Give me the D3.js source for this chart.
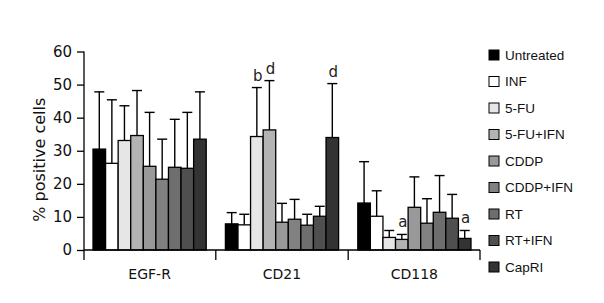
<!DOCTYPE html>
<html>
<head>
<meta charset="utf-8">
<script src="https://cdn.jsdelivr.net/npm/d3@7"></script>
<style>
  body { margin: 0; background: #fff; }
  svg { display: block; }
</style>
</head>
<body>
<div id="chart"></div>
<script>
// % positive cells per marker, by treatment

const groups = ["EGF-R", "CD21", "CD118"];
const treatments = ["Untreated", "INF", "5-FU", "5-FU+IFN", "CDDP", "CDDP+IFN", "RT", "RT+IFN", "CapRI"];
const colors = ["#000000", "#ffffff", "#e6e6e6", "#b3b3b3", "#999999", "#818181", "#6e6e6e", "#4f4f4f", "#333333"];

// mean values, one array per group (in treatment order)
const egfrMean  = [30.5, 26.2, 33.1, 34.6, 25.3, 21.4, 25.0, 24.7, 33.5];
const cd21Mean  = [7.9, 7.6, 34.3, 36.3, 8.4, 9.3, 7.5, 10.2, 34.0];
const cd118Mean = [14.2, 10.2, 3.8, 3.2, 12.9, 8.1, 11.4, 9.6, 3.5];

// top of the error bar (mean + SD)
const egfrErr  = [47.8, 45.4, 43.6, 48.2, 41.6, 33.5, 39.5, 41.6, 47.8];
const cd21Err  = [11.3, 10.8, 49.1, 51.2, 14.1, 15.3, 10.8, 13.2, 50.3];
const cd118Err = [26.7, 17.9, 5.9, 4.7, 22.1, 15.5, 22.5, 16.8, 5.9];

// significance letters: [group, treatment, letter]
const marks = [
  ["CD21", "5-FU", "b"],
  ["CD21", "5-FU+IFN", "d"],
  ["CD21", "CapRI", "d"],
  ["CD118", "5-FU+IFN", "a"],
  ["CD118", "CapRI", "a"]
];

const yTicks = [0, 10, 20, 30, 40, 50, 60];

const width = 604, height = 303;
const margin = ({ top: 51.5, left: 84, bottom: 250, right: 480 });

const means = [egfrMean, cd21Mean, cd118Mean];
const errs = [egfrErr, cd21Err, cd118Err];
const data = groups.flatMap((g, gi) => treatments.map((t, ti) => ({
  group: g, treatment: t, value: means[gi][ti], err: errs[gi][ti], color: colors[ti]
})));

const svg = d3.select("#chart").append("svg")
  .attr("width", width)
  .attr("height", height);

const x0 = d3.scaleBand()
  .domain(groups)
  .range([margin.left, margin.right])
  .paddingInner(0.145)
  .paddingOuter(0.068);

const x1 = d3.scaleBand()
  .domain(treatments)
  .range([0, x0.bandwidth()]);

const y = d3.scaleLinear()
  .domain([0, 60])
  .range([margin.bottom, margin.top]);

// bars
const bar = svg.append("g").selectAll("g")
  .data(data)
  .join("g")
  .attr("transform", d => `translate(${x0(d.group) + x1(d.treatment)},0)`);

bar.append("rect")
  .attr("x", 0)
  .attr("y", d => y(d.value))
  .attr("width", x1.bandwidth())
  .attr("height", d => y(0) - y(d.value))
  .attr("fill", d => d.color)
  .attr("stroke", "#000")
  .attr("stroke-width", 1.3);

// error bars (upper only)
const cx = x1.bandwidth() / 2, cap = 5;
bar.append("line")
  .attr("x1", cx).attr("x2", cx)
  .attr("y1", d => y(d.value))
  .attr("y2", d => y(d.err))
  .attr("stroke", "#000")
  .attr("stroke-width", 1.4);
bar.append("line")
  .attr("x1", cx - cap).attr("x2", cx + cap)
  .attr("y1", d => y(d.err))
  .attr("y2", d => y(d.err))
  .attr("stroke", "#000")
  .attr("stroke-width", 1.4);

// letters above error bars
svg.append("g").selectAll("text")
  .data(marks)
  .join("text")
  .attr("x", m => x0(m[0]) + x1(m[1]) + x1.bandwidth() / 2 + 1)
  .attr("y", m => {
    const d = data.find(e => e.group === m[0] && e.treatment === m[1]);
    return y(d.err) - 7;
  })
  .attr("text-anchor", "middle")
  .attr("font-family", "DejaVu Sans, sans-serif")
  .attr("font-size", 15)
  .attr("fill", "#222")
  .text(m => m[2]);

// y axis
const yAxis = svg.append("g")
  .attr("transform", `translate(${margin.left},0)`)
  .call(d3.axisLeft(y).tickValues(yTicks).tickSize(7).tickPadding(5).tickSizeOuter(0));
yAxis.select(".domain").remove();
yAxis.append("line")
  .attr("x1", 0).attr("x2", 0)
  .attr("y1", y(60)).attr("y2", y(0) + 10)
  .attr("stroke", "#000").attr("stroke-width", 1.3);
yAxis.selectAll(".tick line").attr("stroke-width", 1.3);
yAxis.selectAll("text")
  .attr("font-family", "DejaVu Sans, sans-serif")
  .attr("font-size", 15)
  .attr("fill", "#111");

// x axis baseline + boundary ticks
svg.append("line")
  .attr("x1", margin.left).attr("x2", margin.right)
  .attr("y1", y(0)).attr("y2", y(0))
  .attr("stroke", "#000").attr("stroke-width", 1.3);

const bounds = groups.map(g => x0(g) - x0.step() * x0.paddingInner() / 2).slice(1)
  .concat([margin.right]);
svg.append("g").selectAll("line")
  .data(bounds)
  .join("line")
  .attr("x1", d => d).attr("x2", d => d)
  .attr("y1", y(0)).attr("y2", y(0) + 10)
  .attr("stroke", "#000").attr("stroke-width", 1.3);

svg.append("g").selectAll("text")
  .data(groups)
  .join("text")
  .attr("x", g => x0(g) + x0.bandwidth() / 2)
  .attr("y", 279)
  .attr("text-anchor", "middle")
  .attr("font-family", "DejaVu Sans, sans-serif")
  .attr("font-size", 14)
  .attr("fill", "#111")
  .text(g => g);

// y label
svg.append("text")
  .attr("transform", `translate(45,${(y(0) + y(60)) / 2 + 9}) rotate(-90)`)
  .attr("text-anchor", "middle")
  .attr("font-family", "DejaVu Sans, sans-serif")
  .attr("font-size", 16)
  .attr("fill", "#111")
  .text("% positive cells");

// legend
const legend = svg.append("g").selectAll("g")
  .data(treatments)
  .join("g")
  .attr("transform", (d, i) => `translate(489,${55 + i * 26.5})`);

legend.append("rect")
  .attr("x", 0).attr("y", -5)
  .attr("width", 10).attr("height", 10)
  .attr("fill", (d, i) => colors[i])
  .attr("stroke", "#000")
  .attr("stroke-width", 1);

legend.append("text")
  .attr("x", 16)
  .attr("y", 0)
  .attr("dy", "0.35em")
  .attr("font-family", "Liberation Sans, Arial, sans-serif")
  .attr("font-size", 13.5)
  .attr("fill", "#111")
  .text(d => d);
</script>
</body>
</html>
